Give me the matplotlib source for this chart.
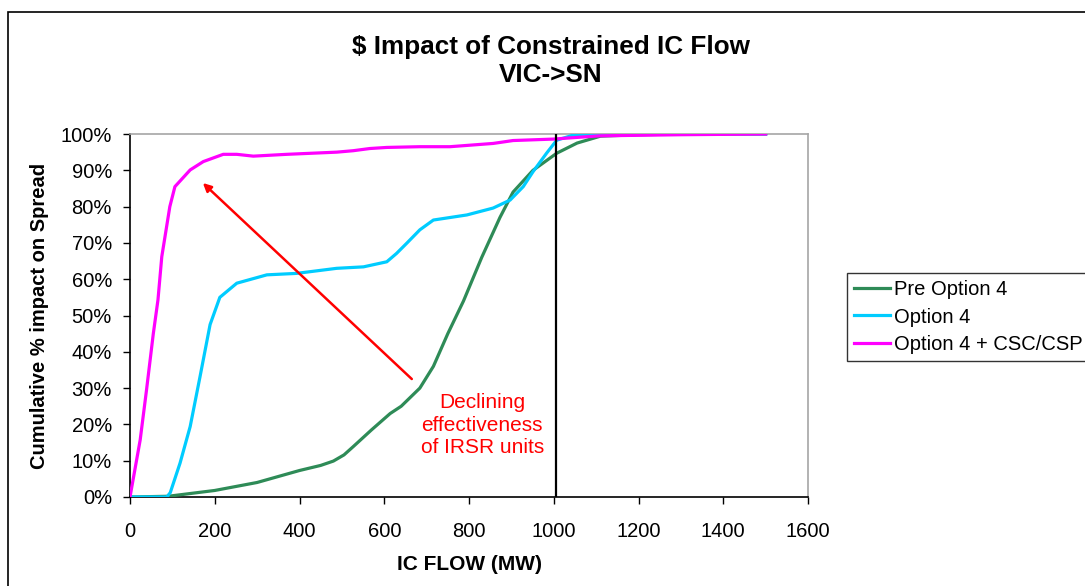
import matplotlib
matplotlib.use("Agg")
import matplotlib.pyplot as plt
from matplotlib.patches import Rectangle
from matplotlib.ticker import FuncFormatter

plt.rcParams['font.family'] = ['Liberation Sans', 'DejaVu Sans']

# ---- data ----
pre_x = [0, 90, 200, 300, 400, 450, 480, 505, 527, 570, 614, 640, 684, 716, 750, 787, 830, 873, 904, 951, 1007, 1055, 1110, 1200, 1300, 1500]
pre_y = [0, 0.2, 1.8, 4.0, 7.3, 8.7, 9.9, 11.6, 13.9, 18.5, 23.0, 25.0, 30.0, 36.0, 45.0, 54.0, 66.0, 77.0, 84.0, 90.0, 94.7, 97.5, 99.4, 99.8, 100, 100]

opt4_x = [0, 87, 95, 118, 142, 165, 189, 212, 252, 323, 393, 488, 551, 606, 629, 653, 684, 716, 795, 857, 897, 928, 951, 983, 1007, 1046, 1100, 1200, 1500]
opt4_y = [0, 0, 1.2, 9.3, 19.4, 33.0, 47.5, 55.0, 58.9, 61.2, 61.6, 63.0, 63.4, 64.8, 67.1, 69.9, 73.6, 76.3, 77.7, 79.6, 81.8, 85.5, 89.6, 94.7, 98.3, 99.7, 100, 100, 100]

csc_x = [0, 24, 39, 55, 66, 75, 94, 106, 142, 173, 220, 252, 291, 370, 488, 527, 566, 606, 684, 755, 857, 904, 999, 1109, 1300, 1500]
csc_y = [0, 15.7, 29.5, 45.0, 54.3, 66.2, 80.0, 85.5, 90.1, 92.4, 94.4, 94.4, 93.9, 94.4, 95.0, 95.4, 96.0, 96.3, 96.5, 96.5, 97.4, 98.2, 98.6, 99.5, 99.8, 100]

series_names = ["Pre Option 4", "Option 4", "Option 4 + CSC/CSP"]
x_ticks = [0, 200, 400, 600, 800, 1000, 1200, 1400, 1600]
y_ticks = [0, 10, 20, 30, 40, 50, 60, 70, 80, 90, 100]
limit_flow = 1005
arrow_tail = (665, 32.5)
arrow_head = (172, 86.5)
note_pos = (831, 19.8)
note_text = "Declining\neffectiveness\nof IRSR units"

# ---- figure ----
fig = plt.figure(figsize=(10.85, 5.86), dpi=100)
ax = fig.add_axes([130/1085, 1-497/586, (808-130)/1085, (497-134)/586])

ax.plot(pre_x, pre_y, color='#2E8B57', lw=2.3, label=series_names[0], zorder=3,
        solid_joinstyle='round')
ax.plot(opt4_x, opt4_y, color='#00CCFF', lw=2.3, label=series_names[1], zorder=4,
        solid_joinstyle='round')
ax.plot(csc_x, csc_y, color='#FF00FF', lw=2.3, label=series_names[2], zorder=5,
        solid_joinstyle='round')

ax.plot([limit_flow, limit_flow], [0, 100], color='black', lw=1.6, zorder=6)

ax.annotate("", xy=arrow_head, xytext=arrow_tail,
            arrowprops=dict(arrowstyle='-|>', color='#FF0000', lw=1.8,
                            mutation_scale=12, shrinkA=0, shrinkB=0), zorder=7)
ax.text(note_pos[0], note_pos[1], note_text, color='#FF0000', fontsize=15,
        ha='center', va='center', linespacing=1.25)

ax.set_xlim(0, 1600)
ax.set_ylim(0, 100)
ax.set_xticks(x_ticks)
ax.set_yticks(y_ticks)
ax.yaxis.set_major_formatter(FuncFormatter(lambda v, p: f"{int(v)}%"))
ax.tick_params(axis='both', direction='out', length=5, width=1, labelsize=14.5, colors='black')
ax.tick_params(axis='x', pad=13)
ax.tick_params(axis='y', pad=8)

for s in ['left', 'bottom']:
    ax.spines[s].set_color('black')
    ax.spines[s].set_linewidth(1.2)
for s in ['top', 'right']:
    ax.spines[s].set_color('#A6A6A6')
    ax.spines[s].set_linewidth(1.2)

ax.set_xlabel("IC FLOW (MW)", fontsize=15, fontweight='bold', labelpad=10)
ax.set_ylabel("Cumulative % impact on Spread", fontsize=14.5, fontweight='bold', labelpad=8)

fig.text(551/1085, 1-61/586, "$ Impact of Constrained IC Flow\nVIC->SN", ha='center', va='center',
         fontsize=18.8, fontweight='bold', linespacing=1.2)

leg = fig.legend(loc='upper left', bbox_to_anchor=(847/1085, 1-273/586), fontsize=14.5,
                 frameon=True, fancybox=False, edgecolor='black', handlelength=1.8,
                 handletextpad=0.2, borderpad=0.35, labelspacing=0.42, borderaxespad=0)
leg.get_frame().set_linewidth(1.0)

# figure frame
fig.patches.append(Rectangle((8/1085, -0.1), 1.2, 1-12/586 + 0.1, transform=fig.transFigure,
                             fill=False, edgecolor='black', lw=1.2))

fig.savefig("out.png", dpi=100)
